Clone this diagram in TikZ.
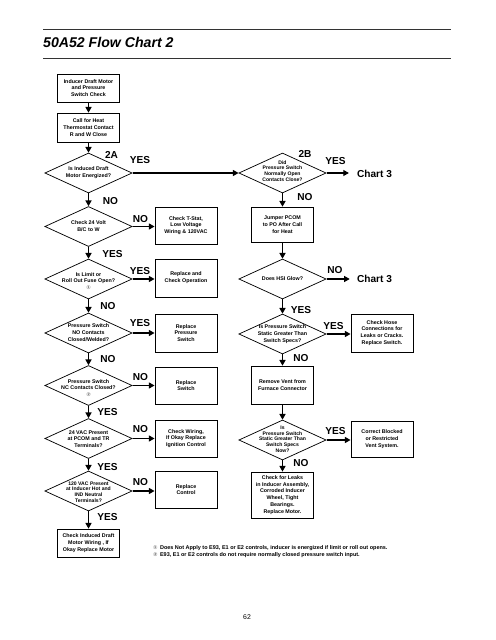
\documentclass[tikz,border=0pt]{standalone}
\usepackage{fontspec}
\setmainfont{Liberation Sans}
\newfontfamily\dejavu{DejaVu Sans}
\usetikzlibrary{shapes.geometric,arrows.meta}
\newcommand\boxfont{\fontsize{6.6}{8.4}\selectfont\bfseries}
\newcommand\tightfont{\fontsize{6.3}{7.0}\selectfont\bfseries}
\newcommand\lblfont{\fontsize{12.5}{14}\selectfont\bfseries}
\newcommand\circnum[1]{{\dejavu\fontsize{6.5}{6.5}\selectfont\color{black!55}#1}}
\tikzset{
  box/.style={draw, line width=0.9pt, minimum width=77pt, inner sep=1pt, align=center, font=\boxfont},
  dia/.style={draw, diamond, line width=0.9pt, minimum width=108pt, minimum height=49.5pt, inner sep=0pt},
  dtext/.style={align=center, font=\boxfont, inner sep=0pt},
  lbl/.style={font=\lblfont, inner sep=0pt},
  arr/.style={line width=1.4pt, -{Triangle[length=7pt,width=7.5pt]}},
  rule/.style={line width=1.2pt, draw=black!80},
  fnote/.style={anchor=west, inner sep=0pt, font=\fontsize{6.8}{7.5}\selectfont\bfseries},
}
\begin{document}
\begin{tikzpicture}[x=1.2375pt,y=-1.2375pt]
\useasboundingbox (0,0) rectangle (495,640);
\fill[white] (0,0) rectangle (495,640);

% title
\coordinate (r1a) at (43,29.3); \coordinate (r1b) at (451,29.3);
\coordinate (r2a) at (43,58.3); \coordinate (r2b) at (451,58.3);
\draw[rule] (r1a) -- (r1b);
\draw[rule] (r2a) -- (r2b);
\node[anchor=base west, inner sep=0pt, font=\fontsize{17.5}{19}\selectfont\bfseries\itshape] (title) at (43,48) {50A52 Flow Chart 2};

% left column
\node[box, minimum height=34.7pt] (b1) at (88.5,88) {Inducer Draft Motor\\and Pressure\\Switch Check};
\node[box, minimum height=35.9pt] (b2) at (88.5,127.5) {Call for Heat\\Thermostat Contact\\R and W Close};
\node[dia] (d2a) at (88.5,173) {};
\node[dtext] (t2a) at (88.5,173) {Is Induced Draft\\Motor Energized?};
\node[dia] (d24) at (88.5,226.5) {};
\node[dtext] (t24) at (88.5,226) {Check 24 Volt\\B/C to W};
\node[dia] (dlim) at (88.5,279) {};
\node[dtext] (tlim) at (88.5,281) {Is Limit or\\Roll Out Fuse Open?\\\circnum{①}};
\node[dia] (dno) at (88.5,333) {};
\node[dtext] (tno) at (88.5,332.5) {Pressure Switch\\NO Contacts\\Closed/Welded?};
\node[dia] (dnc) at (88.5,385.5) {};
\node[dtext] (tnc) at (88.5,388) {Pressure Switch\\NC Contacts Closed?\\\circnum{②}};
\node[dia] (dvac) at (88.5,438.5) {};
\node[dtext] (tvac) at (88.5,439) {24 VAC Present\\at PCOM and TR\\Terminals?};
\node[dia] (d120) at (88.5,491) {};
\node[dtext, font=\tightfont, text depth=0pt] (t120) at (88.5,492) {120 VAC Present\\at Inducer Hot and\\IND Neutral\\Terminals?};
\node[box, minimum height=34.7pt] (bfin) at (88.5,543) {Check Induced Draft\\Motor Wiring , If\\Okay Replace Motor};

% middle column
\node[box, minimum height=45.8pt] (m1) at (186,225.5) {Check T-Stat,\\Low Voltage\\Wiring \& 120VAC};
\node[box, minimum height=47pt] (m2) at (186,278) {Replace and\\Check Operation};
\node[box, minimum height=47pt] (m3) at (186,333) {Replace\\Pressure\\Switch};
\node[box, minimum height=45.8pt] (m4) at (186,385.5) {Replace\\Switch};
\node[box, minimum height=45.8pt] (m5) at (186,438.5) {Check Wiring,\\If Okay Replace\\Ignition Control};
\node[box, minimum height=45.8pt] (m6) at (186,489.5) {Replace\\Control};

% right column
\node[dia] (d2b) at (282.5,173) {};
\node[dtext, font=\tightfont] (t2b) at (282.5,171) {Did\\Pressure Switch\\Normally Open\\Contacts Close?};
\node[box, minimum height=43.3pt] (r1) at (282.5,224.5) {Jumper PCOM\\to PO After Call\\for Heat};
\node[dia] (dhsi) at (282.5,279) {};
\node[dtext] (thsi) at (282.5,279) {Does HSI Glow?};
\node[dia] (dps) at (282.5,334) {};
\node[dtext] (tps) at (282.5,334) {Is Pressure Switch\\Static Greater Than\\Switch Specs?};
\node[box, minimum height=47pt] (r2) at (282.5,385) {Remove Vent from\\Furnace Connector};
\node[dia] (dps2) at (282.5,440) {};
\node[dtext, font=\tightfont] (tps2) at (282.5,439) {Is\\Pressure Switch\\Static Greater Than\\Switch Specs\\Now?};
\node[box, minimum height=57pt] (r3) at (282.5,495) {Check for Leaks\\in Inducer Assembly,\\Corroded Inducer\\Wheel, Tight\\Bearings.\\Replace Motor.};

% far right
\node[box, minimum height=47pt] (f1) at (382,333) {Check Hose\\Connections for\\Leaks or Cracks.\\Replace Switch.};
\node[box, minimum height=44.6pt] (f2) at (382,439) {Correct Blocked\\or Restricted\\Vent System.};
\node[lbl, anchor=west] (ch3a) at (357,173.5) {Chart 3};
\node[lbl, anchor=west] (ch3b) at (357,279) {Chart 3};

% connectors
\draw[arr] (b1) -- (b2);
\draw[arr] (b2) -- (d2a);
\draw[arr] (d2a.east) -- (d2b.west);
\draw[arr] (d2a.south) -- (d24.north);
\draw[arr] (d24.east) -- (d24.east -| m1.west);
\draw[arr] (d24.south) -- (dlim.north);
\draw[arr] (dlim.east) -- (dlim.east -| m2.west);
\draw[arr] (dlim.south) -- (dno.north);
\draw[arr] (dno.east) -- (dno.east -| m3.west);
\draw[arr] (dno.south) -- (dnc.north);
\draw[arr] (dnc.east) -- (dnc.east -| m4.west);
\draw[arr] (dnc.south) -- (dvac.north);
\draw[arr] (dvac.east) -- (dvac.east -| m5.west);
\draw[arr] (dvac.south) -- (d120.north);
\draw[arr] (d120.east) -- (d120.east -| m6.west);
\draw[arr] (d120.south) -- (bfin.north);
\draw[arr] (d2b.east) -- ([xshift=-10pt]ch3a.west |- d2b.east);
\draw[arr] (d2b.south) -- (r1.north);
\draw[arr] (r1.south) -- (dhsi.north);
\draw[arr] (dhsi.east) -- ([xshift=-9pt]ch3b.west |- dhsi.east);
\draw[arr] (dhsi.south) -- (dps.north);
\draw[arr] (dps.east) -- (dps.east -| f1.west);
\draw[arr] (dps.south) -- (r2.north);
\draw[arr] (r2.south) -- (dps2.north);
\draw[arr] (dps2.east) -- (dps2.east -| f2.west);
\draw[arr] (dps2.south) -- (r3.north);

% labels
\node[lbl] (l2a) at (111.5,155) {2A};
\node[lbl] (l2b) at (305,154) {2B};
\node[lbl] (y1) at (140,160.5) {YES};
\node[lbl] (n1) at (110.5,201) {NO};
\node[lbl] (n2) at (140.5,219) {NO};
\node[lbl] (y2) at (112.5,254) {YES};
\node[lbl] (y3) at (140,271) {YES};
\node[lbl] (n3) at (108,306) {NO};
\node[lbl] (y4) at (140,323) {YES};
\node[lbl] (n4) at (108,359) {NO};
\node[lbl] (n5) at (140.5,377) {NO};
\node[lbl] (y5) at (107.5,412) {YES};
\node[lbl] (n6) at (140.5,429.5) {NO};
\node[lbl] (y6) at (107.5,467) {YES};
\node[lbl] (n7) at (140.5,482) {NO};
\node[lbl] (y7) at (107.5,517.5) {YES};
\node[lbl] (y8) at (335.5,161) {YES};
\node[lbl] (n8) at (305,197) {NO};
\node[lbl] (n9) at (335,270) {NO};
\node[lbl] (y9) at (301,310) {YES};
\node[lbl] (y10) at (333.5,326) {YES};
\node[lbl] (n10) at (301,358) {NO};
\node[lbl] (y11) at (335.5,431) {YES};
\node[lbl] (n11) at (301,463) {NO};

% footnotes
\node[fnote] (fn1) at (153,548) {\circnum{①}\hspace{3pt}Does Not Apply to E93, E1 or E2 controls, inducer is energized if limit or roll out opens.};
\node[fnote] (fn2) at (153,555.5) {\circnum{②}\hspace{3pt}E93, E1 or E2 controls do not require normally closed pressure switch input.};

\node[font=\fontsize{8.5}{10}\selectfont, inner sep=0pt] (pg) at (247,617) {62};
\end{tikzpicture}
\end{document}
